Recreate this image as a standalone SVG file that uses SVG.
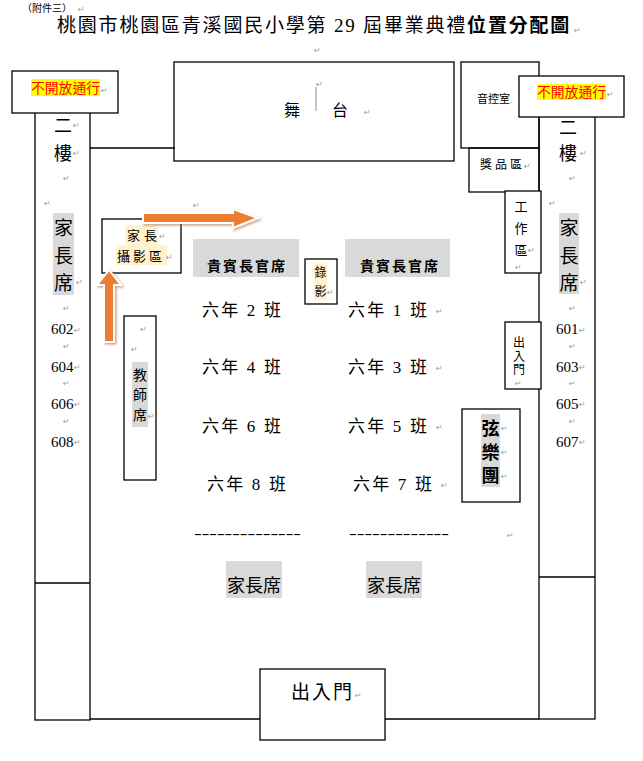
<svg xmlns="http://www.w3.org/2000/svg" width="643" height="761" viewBox="0 0 643 761">
<style>
.ln{fill:none;stroke:#000;stroke-width:1.3}
.wb{fill:#fff;stroke:#000;stroke-width:1.3}
.t{font-family:"Liberation Serif","Noto Sans CJK TC",serif;fill:#000}
.c{text-anchor:middle}
.b{font-weight:bold}
.pm{font-family:"DejaVu Sans",sans-serif;font-size:8px;fill:#999}
.red{font-family:"Noto Sans CJK TC",sans-serif;fill:#ff0000;font-size:13.8px}
.grey{fill:#d9d9d9}
.beige{fill:#fff2cc}
.arrow{fill:#ed7d31;stroke:#fff;stroke-width:2;filter:url(#sh)}
</style>
<defs>
<filter id="sh" x="-30%" y="-30%" width="160%" height="160%">
<feDropShadow dx="1.5" dy="1.5" stdDeviation="1" flood-color="#a0643c" flood-opacity="0.6"/>
</filter>
</defs>
<rect width="643" height="761" fill="#fff"/>

<g id="title">
<text class="t" x="22" y="12" font-size="10">（附件三）</text>
<text class="pm" x="78" y="12">↵</text>
<text class="t" x="57" y="32" font-size="19" letter-spacing="1.8">桃園市桃園區青溪國民小學第 29 屆畢業典禮<tspan class="b">位置分配圖</tspan></text>
<text class="pm" x="574" y="33">↵</text>
<text class="pm" x="314" y="53">↵</text>
</g>

<g id="hall">
<line class="ln" x1="90" y1="148" x2="175" y2="148"/>
<line class="ln" x1="90" y1="719" x2="539" y2="719"/>
</g>

<g id="left-column">
<rect class="ln" x="35" y="112" width="55" height="608"/>
<line class="ln" x1="35" y1="583" x2="90" y2="583"/>
<text class="t c" x="63" y="132" font-size="18">二</text>
<text class="t c" x="63" y="160" font-size="18">樓</text>
<rect class="grey" x="53" y="213" width="21" height="82"/>
<text class="t c" x="63.5" y="235" font-size="19">家</text>
<text class="t c" x="63.5" y="263" font-size="19">長</text>
<text class="t c" x="63.5" y="290" font-size="19">席</text>
<text class="t" x="51" y="334" font-size="15">602</text>
<text class="t" x="51" y="372" font-size="15">604</text>
<text class="t" x="51" y="409" font-size="15">606</text>
<text class="t" x="51" y="447" font-size="15">608</text>
<text class="pm" x="73" y="128">↵</text>
<text class="pm" x="73" y="156">↵</text>
<text class="pm" x="63" y="181">↵</text>
<text class="pm" x="44" y="206">↵</text>
<text class="pm" x="76" y="285">↵</text>
<text class="pm" x="63" y="311">↵</text>
<text class="pm" x="74" y="333">↵</text>
<text class="pm" x="63" y="349">↵</text>
<text class="pm" x="74" y="370">↵</text>
<text class="pm" x="63" y="386">↵</text>
<text class="pm" x="74" y="407">↵</text>
<text class="pm" x="63" y="424">↵</text>
<text class="pm" x="74" y="445">↵</text>
</g>

<g id="left-closed">
<rect class="wb" x="12" y="71" width="106" height="42"/>
<rect fill="#ffff00" x="31" y="79" width="69" height="17"/>
<text class="red" x="31" y="93">不開放通行</text>
<text class="pm" x="101" y="93">↵</text>
</g>

<g id="stage">
<rect class="ln" x="174" y="62" width="280" height="99"/>
<text class="t" x="284" y="116" font-size="16">舞</text>
<line x1="316" y1="87" x2="316" y2="111" stroke="#888" stroke-width="1"/>
<text class="pm" x="316" y="87">↵</text>
<text class="t" x="332" y="116" font-size="16">台</text>
<text class="pm" x="364" y="115">↵</text>
</g>

<g id="sound-room">
<rect class="ln" x="461" y="62" width="78" height="86"/>
<text class="t" x="477" y="103" font-size="11">音控室</text>
<text class="pm" x="510" y="103" font-size="5">.</text>
</g>

<g id="right-column">
<rect class="ln" x="539" y="116" width="56" height="603"/>
<line class="ln" x1="539" y1="577" x2="595" y2="577"/>
<text class="t c" x="568" y="134" font-size="18">二</text>
<text class="t c" x="568" y="160" font-size="18">樓</text>
<rect class="grey" x="559" y="213" width="20" height="81"/>
<text class="t c" x="569" y="235" font-size="19">家</text>
<text class="t c" x="569" y="263" font-size="19">長</text>
<text class="t c" x="569" y="290" font-size="19">席</text>
<text class="t" x="556" y="334" font-size="15">601</text>
<text class="t" x="556" y="372" font-size="15">603</text>
<text class="t" x="556" y="409" font-size="15">605</text>
<text class="t" x="556" y="447" font-size="15">607</text>
<text class="pm" x="580" y="156">↵</text>
<text class="pm" x="569" y="181">↵</text>
<text class="pm" x="549" y="206">↵</text>
<text class="pm" x="580" y="285">↵</text>
<text class="pm" x="569" y="311">↵</text>
<text class="pm" x="579" y="333">↵</text>
<text class="pm" x="569" y="349">↵</text>
<text class="pm" x="579" y="370">↵</text>
<text class="pm" x="569" y="386">↵</text>
<text class="pm" x="579" y="407">↵</text>
<text class="pm" x="569" y="424">↵</text>
<text class="pm" x="579" y="445">↵</text>
</g>

<g id="right-closed">
<rect class="wb" x="519" y="76" width="105" height="41"/>
<rect fill="#ffff00" x="537" y="84" width="69" height="16"/>
<text class="red" x="537" y="97">不開放通行</text>
<text class="pm" x="607" y="97">↵</text>
</g>

<g id="prize-area">
<rect class="ln" x="469" y="148" width="70" height="44"/>
<text class="t" x="480" y="169" font-size="12"><tspan>獎</tspan><tspan dx="3">品</tspan><tspan dx="3">區</tspan></text>
<text class="pm" x="524" y="169">↵</text>
</g>

<g id="work-area">
<rect class="wb" x="505" y="191" width="36" height="82"/>
<text class="t c" x="521" y="211" font-size="13">工</text>
<text class="t c" x="521" y="233" font-size="13">作</text>
<text class="t c" x="521" y="255" font-size="13">區</text>
<text class="pm" x="528" y="253">↵</text>
<text class="pm" x="515" y="270" font-size="6">↵</text>
</g>

<g id="side-door">
<rect class="wb" x="505" y="322" width="36" height="67"/>
<text class="t c" x="519" y="347" font-size="12">出</text>
<text class="t c" x="519" y="361" font-size="12">入</text>
<text class="t c" x="519" y="374" font-size="12">門</text>
<text class="pm" x="515" y="386" font-size="7">↵</text>
</g>

<g id="orchestra">
<rect class="ln" x="462" y="409" width="58" height="93"/>
<rect class="grey" x="481" y="414" width="19" height="73"/>
<text class="t c b" x="490.5" y="435" font-size="18">弦</text>
<text class="t c b" x="490.5" y="459" font-size="18">樂</text>
<text class="t c b" x="490.5" y="482" font-size="18">團</text>
<text class="pm" x="501" y="431">↵</text>
<text class="pm" x="501" y="455">↵</text>
<text class="pm" x="501" y="479">↵</text>
</g>

<g id="teacher-seats">
<rect class="ln" x="124" y="316" width="32" height="164"/>
<rect class="grey" x="132" y="362" width="16" height="65"/>
<text class="t c" x="140" y="380" font-size="14">教</text>
<text class="t c" x="140" y="400" font-size="14">師</text>
<text class="t c" x="140" y="420" font-size="14">席</text>
<text class="pm" x="140" y="332">↵</text>
<text class="pm" x="131" y="352">↵</text>
<text class="pm" x="148" y="419">↵</text>
</g>

<g id="photo-area">
<rect class="ln" x="102" y="219" width="79" height="54"/>
<rect class="beige" x="125" y="225" width="33" height="20"/>
<rect class="beige" x="116" y="245" width="51" height="20"/>
<text class="t" x="127" y="240" font-size="13"><tspan>家</tspan><tspan dx="4">長</tspan></text>
<text class="t" x="117" y="261" font-size="13"><tspan>攝</tspan><tspan dx="3">影</tspan><tspan dx="3">區</tspan></text>
<text class="pm" x="159" y="239">↵</text>
<text class="pm" x="166" y="260">↵</text>
</g>

<g id="video">
<rect class="ln" x="305" y="259" width="32" height="45"/>
<rect class="beige" x="314" y="263" width="13" height="37"/>
<text class="t c" x="320.5" y="277" font-size="12">錄</text>
<text class="t c" x="320.5" y="296" font-size="12">影</text>
<text class="pm" x="327" y="295">↵</text>
</g>

<g id="guest-left">
<rect class="grey" x="193" y="239" width="106" height="38"/>
<text class="t b" x="207" y="271" font-size="14" letter-spacing="2">貴賓長官席</text>
</g>
<g id="guest-right">
<rect class="grey" x="345" y="239" width="105" height="38"/>
<text class="t b" x="360" y="271" font-size="14" letter-spacing="2">貴賓長官席</text>
</g>

<g id="classes">
<text class="t" x="202" y="316" font-size="17" letter-spacing="2.2">六年 2 班</text>
<text class="t" x="348" y="316" font-size="17" letter-spacing="2.2">六年 1 班</text>
<text class="t" x="202" y="373" font-size="17" letter-spacing="2.2">六年 4 班</text>
<text class="t" x="348" y="373" font-size="17" letter-spacing="2.2">六年 3 班</text>
<text class="t" x="202" y="432" font-size="17" letter-spacing="2.2">六年 6 班</text>
<text class="t" x="348" y="432" font-size="17" letter-spacing="2.2">六年 5 班</text>
<text class="t" x="207" y="490" font-size="17" letter-spacing="2.2">六年 8 班</text>
<text class="t" x="353" y="490" font-size="17" letter-spacing="2.2">六年 7 班</text>
<text class="pm" x="436" y="314">↵</text>
<text class="pm" x="436" y="371">↵</text>
<text class="pm" x="436" y="430">↵</text>
<text class="pm" x="441" y="488">↵</text>
</g>

<g id="dividers">
<text class="t" x="194" y="538" font-size="14" textLength="107" lengthAdjust="spacingAndGlyphs">--------------</text>
<text class="t" x="349" y="538" font-size="14" textLength="100" lengthAdjust="spacingAndGlyphs">-------------</text>
<text class="pm" x="507" y="538">↵</text>
</g>

<g id="parents-left">
<rect class="grey" x="226" y="561" width="56" height="37"/>
<text class="t" x="227" y="592" font-size="18">家長席</text>
</g>
<g id="parents-right">
<rect class="grey" x="366" y="561" width="56" height="37"/>
<text class="t" x="367" y="592" font-size="18">家長席</text>
</g>

<g id="main-door">
<rect class="wb" x="260" y="669" width="125" height="71"/>
<text class="t" x="291" y="699" font-size="19"><tspan>出</tspan><tspan dx="2">入</tspan><tspan dx="2">門</tspan></text>
<text class="pm" x="355" y="698">↵</text>
</g>

<g id="connectors">
<polygon class="arrow" points="143,213 233,213 233,209 258,218 233,228 233,223 143,223"/>
<polygon class="arrow" points="109,270 121,285 114,285 114,342 104,342 104,285 97,285"/>
<text class="pm" x="193" y="208">↵</text>
</g>
</svg>
